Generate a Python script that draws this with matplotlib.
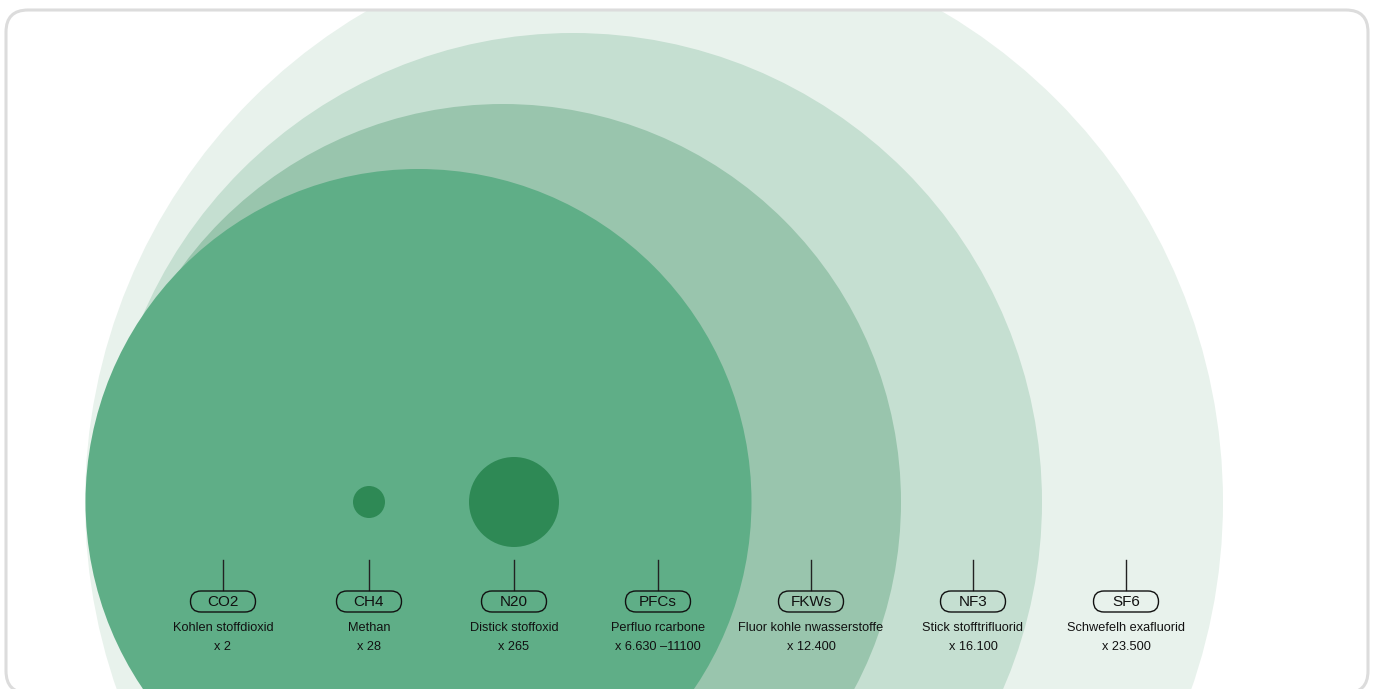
import matplotlib.pyplot as plt
from matplotlib.patches import Circle, FancyBboxPatch

# gases, labels and warming factors
gases = ["CO2", "CH4", "N20", "PFCs", "FKWs", "NF3", "SF6"]
names = ["Kohlen stoffdioxid", "Methan", "Distick stoffoxid", "Perfluo rcarbone",
         "Fluor kohle nwasserstoffe", "Stick stofftrifluorid", "Schwefelh exafluorid"]
factors = ["x 2", "x 28", "x 265", "x 6.630 \u201311100", "x 12.400", "x 16.100", "x 23.500"]
label_x = [223, 369, 514, 658, 811, 973, 1126]

# bubbles (centre x, radius), biggest first
big_x = [654, 573, 503, 418.5]
big_r = [569, 469, 398, 333]
big_col = ["#e8f2ec", "#c5dfd1", "#99c5ad", "#5fae87"]
small_x = [369, 514]
small_r = [16, 45]

H = 689
circle_y = H - 502

plt.rcParams['font.family'] = ['Liberation Sans', 'DejaVu Sans']

fig = plt.figure(figsize=(13.75, 6.89), dpi=100)
ax = fig.add_axes([0, 0, 1, 1])
ax.set_xlim(0, 1375)
ax.set_ylim(0, H)
ax.axis('off')

# card with rounded corners, bottom edge runs just off the image
box = FancyBboxPatch((6, -4), 1362, H - 10 + 4, boxstyle="round,pad=0,rounding_size=22",
                     fc="white", ec="none", zorder=0)
ax.add_patch(box)

for x, r, c in zip(big_x, big_r, big_col):
    p = Circle((x, circle_y), r, fc=c, ec="none", zorder=1)
    ax.add_patch(p)
    p.set_clip_path(box)

for x, r in zip(small_x, small_r):
    ax.add_patch(Circle((x, circle_y), r, fc="#2e8955", ec="none", zorder=2))

border = FancyBboxPatch((6, -4), 1362, H - 10 + 4, boxstyle="round,pad=0,rounding_size=22",
                        fc="none", ec="#dcdcdc", lw=2.2, zorder=5)
ax.add_patch(border)

for x, g, n, f in zip(label_x, gases, names, factors):
    ax.plot([x, x], [H - 560, H - 590], color="#222222", lw=1, zorder=3)
    pill = FancyBboxPatch((x - 32.5, H - 612), 65, 21,
                          boxstyle="round,pad=0,rounding_size=10.5",
                          fc="none", ec="#111111", lw=1, zorder=3)
    ax.add_patch(pill)
    ax.text(x, H - 602, g, ha="center", va="center", fontsize=11, color="#111111", zorder=4)
    ax.text(x, H - 628, n, ha="center", va="center", fontsize=9.2, color="#111111", zorder=4)
    ax.text(x, H - 647, f, ha="center", va="center", fontsize=9.2, color="#111111", zorder=4)

fig.savefig("out.png", dpi=100, facecolor="white")
